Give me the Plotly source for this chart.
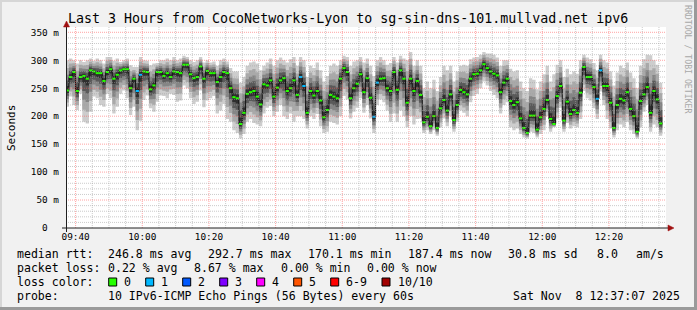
import plotly.graph_objects as go
import pandas as pd

# ---------------- data ----------------
TITLE = "Last 3 Hours from CocoNetworks-Lyon to sg-sin-dns-101.mullvad.net ipv6"
STEP_START = "2025-11-08 09:37:00"          # first 60 s step
VIEW_START = "2025-11-08 09:37:07"
VIEW_END = "2025-11-08 12:37:07"

# median rtt per 60 s step (ms)
median = [
    246, 270, 279, 245, 270, 272, 267, 282, 280, 277,
    277, 263, 279, 284, 267, 274, 282, 284, 284, 250,
    267, 245, 274, 280, 279, 248, 255, 279, 279, 272,
    277, 270, 280, 279, 277, 292, 292, 275, 268, 270,
    289, 267, 281, 277, 277, 261, 270, 279, 277, 250,
    234, 232, 186, 206, 240, 243, 245, 235, 221, 257,
    255, 264, 235, 251, 264, 268, 245, 250, 264, 238,
    270, 254, 206, 245, 237, 245, 228, 198, 211, 238,
    235, 232, 267, 286, 279, 232, 250, 258, 275, 243,
    268, 233, 199, 260, 267, 268, 250, 245, 279, 247,
    282, 267, 224, 267, 245, 263, 238, 189, 199, 182,
    200, 179, 214, 229, 210, 239, 193, 220, 247, 243,
    239, 267, 275, 276, 282, 293, 286, 280, 276, 273,
    243, 260, 267, 227, 220, 225, 196, 179, 170, 201,
    201, 176, 198, 213, 229, 195, 186, 236, 254, 192,
    226, 204, 211, 206, 242, 288, 270, 270, 252, 231,
    282, 254, 254, 224, 179, 220, 231, 228, 243, 213,
    200, 172, 227, 239, 252, 206, 245, 230, 187,
]

# slowest ping per step (top of smoke, ms)
ping_hi = [
    300, 303, 300, 294, 300, 297, 300, 303, 299, 303,
    300, 294, 306, 306, 299, 303, 297, 300, 303, 291,
    288, 288, 306, 300, 299, 291, 294, 295, 300, 300,
    303, 300, 306, 300, 303, 308, 306, 300, 297, 300,
    306, 296, 300, 296, 298, 290, 300, 303, 298, 286,
    280, 280, 260, 270, 290, 296, 298, 294, 282, 290,
    296, 303, 290, 300, 305, 300, 296, 302, 306, 290,
    306, 300, 270, 290, 286, 296, 282, 262, 272, 290,
    294, 290, 300, 308, 306, 290, 298, 300, 306, 296,
    303, 290, 272, 300, 306, 300, 292, 295, 306, 296,
    308, 303, 300, 315, 290, 300, 290, 250, 262, 250,
    265, 245, 270, 290, 282, 290, 262, 280, 290, 292,
    290, 302, 305, 306, 310, 315, 312, 312, 310, 305,
    290, 300, 300, 285, 280, 282, 262, 250, 245, 268,
    265, 248, 262, 275, 290, 262, 275, 292, 300, 270,
    285, 275, 280, 276, 300, 310, 305, 302, 295, 282,
    310, 300, 296, 280, 255, 278, 290, 286, 296, 278,
    268, 250, 290, 302, 310, 309, 300, 292, 260,
]

# fastest ping per step (bottom of smoke, ms)
ping_lo = [
    217, 235, 220, 211, 240, 190, 187, 208, 235, 232,
    220, 217, 240, 232, 205, 217, 240, 246, 232, 202,
    217, 175, 192, 229, 237, 214, 208, 226, 237, 236,
    232, 240, 238, 226, 228, 255, 250, 232, 222, 226,
    246, 216, 228, 232, 236, 205, 210, 222, 195, 190,
    175, 170, 160, 168, 190, 195, 188, 185, 182, 205,
    215, 218, 200, 208, 220, 200, 195, 205, 190, 200,
    200, 195, 178, 200, 195, 204, 182, 170, 172, 190,
    188, 185, 200, 236, 230, 196, 208, 215, 232, 206,
    220, 196, 170, 220, 230, 225, 210, 190, 205, 190,
    210, 200, 180, 200, 185, 195, 196, 170, 175, 168,
    175, 165, 180, 196, 182, 200, 172, 190, 210, 206,
    200, 225, 236, 240, 250, 262, 255, 245, 238, 232,
    205, 220, 225, 180, 175, 178, 168, 162, 160, 172,
    170, 162, 168, 175, 200, 172, 180, 196, 215, 172,
    188, 178, 182, 180, 195, 245, 232, 228, 214, 195,
    244, 220, 195, 178, 162, 175, 185, 180, 190, 175,
    168, 160, 180, 208, 220, 172, 185, 180, 165,
]

# lost pings (of 10) per step
loss_pings = [
    0, 0, 0, 0, 0, 0, 0, 0, 0, 0,
    0, 0, 0, 0, 0, 0, 0, 0, 0, 0,
    0, 1, 1, 0, 0, 0, 0, 0, 0, 0,
    0, 0, 0, 0, 0, 0, 0, 0, 0, 0,
    0, 0, 0, 0, 0, 0, 0, 0, 0, 0,
    0, 0, 0, 0, 0, 0, 0, 0, 0, 0,
    0, 0, 0, 0, 0, 0, 0, 0, 0, 0,
    1, 1, 0, 0, 0, 0, 0, 0, 0, 0,
    0, 0, 0, 0, 0, 0, 0, 0, 0, 0,
    0, 0, 1, 1, 0, 0, 0, 0, 0, 0,
    0, 0, 0, 0, 0, 0, 0, 0, 0, 0,
    0, 0, 0, 0, 0, 0, 0, 0, 0, 0,
    0, 0, 0, 0, 0, 0, 0, 0, 0, 0,
    0, 0, 0, 0, 0, 0, 0, 0, 0, 0,
    0, 0, 0, 0, 0, 0, 0, 0, 0, 0,
    0, 0, 0, 0, 0, 0, 0, 0, 0, 1,
    1, 0, 0, 0, 0, 0, 0, 0, 0, 0,
    0, 0, 0, 0, 0, 0, 0, 0, 0,
]

y_tick_values = [0, 50, 100, 150, 200, 250, 300, 350]
y_tick_labels = ["0  ", "50 m", "100 m", "150 m", "200 m", "250 m", "300 m", "350 m"]
x_tick_labels = ["09:40", "10:00", "10:20", "10:40", "11:00", "11:20", "11:40", "12:00", "12:20"]

loss_names = ["0", "1", "2", "3", "4", "5", "6-9", "10/10"]
loss_colors = ["#26ff00", "#00b8ff", "#0059ff", "#7e00ff", "#ff00ff", "#ff5500", "#ff0000", "#a10000"]

row_median = ["median rtt:", "246.8 ms avg", "292.7 ms max", "170.1 ms min", "187.4 ms now", "30.8 ms sd", "8.0", "am/s"]
row_loss = ["packet loss:", "0.22 % avg", "8.67 % max", "0.00 % min", "0.00 % now"]
row_probe = ["probe:", "10 IPv6-ICMP Echo Pings (56 Bytes) every 60s"]
stamp = "Sat Nov  8 12:37:07 2025"
credit = "RRDTOOL / TOBI OETIKER"

# ---------------- styling ----------------
MONO = "DejaVu Sans Mono"
W, H = 697, 310
PL, PT, PW, PH = 66, 27, 600, 201          # plot area in pixels
Y_TOP = 359.5
SMOKE = [(1.00, "#cdcdcd"), (0.74, "#a9a9a9"), (0.52, "#858585"), (0.33, "#5a5a5a"), (0.15, "#2e2e2e")]
GRID_MAJOR = "rgba(255,90,90,0.55)"
GRID_MINOR = "rgba(160,160,160,0.55)"


def xp(px):
    return (px - PL) / PW


def yp(py):
    return (PT + PH - py) / PH


fig = go.Figure()

edges = list(pd.date_range(STEP_START, periods=len(median) + 1, freq="min"))


def stepped(vals):
    return list(vals) + [vals[-1]]


# smoke
for frac, col in SMOKE:
    lo = [m - frac * (m - l) for m, l in zip(median, ping_lo)]
    hi = [m + frac * (h - m) for m, h in zip(median, ping_hi)]
    fig.add_trace(go.Scatter(x=edges, y=stepped(lo), mode="lines",
                             line=dict(width=0, shape="hv"), hoverinfo="skip"))
    fig.add_trace(go.Scatter(x=edges, y=stepped(hi), mode="lines", fill="tonexty",
                             fillcolor=col, line=dict(width=0, shape="hv"), hoverinfo="skip"))

# median connector
fig.add_trace(go.Scatter(x=edges, y=stepped(median), mode="lines",
                         line=dict(color="#111111", width=1, shape="hv"), hoverinfo="skip"))

# median dashes coloured by loss
for n_lost, col in [(0, loss_colors[0]), (1, loss_colors[1])]:
    xs, ys = [], []
    for i, m in enumerate(median):
        if loss_pings[i] == n_lost:
            xs += [edges[i], edges[i + 1], None]
            ys += [m, m, None]
    fig.add_trace(go.Scatter(x=xs, y=ys, mode="lines", line=dict(color=col, width=2),
                             hoverinfo="skip", connectgaps=False))

shapes = []
# grid (drawn above the smoke like rrdtool)
gt = pd.Timestamp("2025-11-08 09:40:00")
k = 0
while gt <= pd.Timestamp(VIEW_END):
    major = (k % 4 == 0)
    shapes.append(dict(type="line", xref="x", yref="paper", x0=gt, x1=gt, y0=0, y1=1, layer="above",
                       line=dict(color=GRID_MAJOR if major else GRID_MINOR, width=1, dash="1px,1px")))
    gt += pd.Timedelta(minutes=5)
    k += 1
for v in range(10, 360, 10):
    major = (v % 50 == 0)
    shapes.append(dict(type="line", xref="paper", yref="y", x0=0, x1=1, y0=v, y1=v, layer="above",
                       line=dict(color=GRID_MAJOR if major else GRID_MINOR, width=1, dash="1px,1px")))

# axes lines and arrows
AX = "#202020"
ARROW = "#a01010"
shapes.append(dict(type="line", xref="paper", yref="paper", x0=xp(62), x1=xp(669), y0=yp(228), y1=yp(228),
                   line=dict(color=AX, width=1), layer="above"))
shapes.append(dict(type="line", xref="paper", yref="paper", x0=xp(66.5), x1=xp(66.5), y0=yp(232), y1=yp(25),
                   line=dict(color=AX, width=1), layer="above"))
shapes.append(dict(type="path", xref="paper", yref="paper", layer="above",
                   path=f"M {xp(66.5)},{yp(21)} L {xp(63.5)},{yp(27)} L {xp(69.5)},{yp(27)} Z",
                   fillcolor=ARROW, line=dict(color=ARROW, width=0.5)))
shapes.append(dict(type="path", xref="paper", yref="paper", layer="above",
                   path=f"M {xp(674)},{yp(228)} L {xp(668)},{yp(225)} L {xp(668)},{yp(231)} Z",
                   fillcolor=ARROW, line=dict(color=ARROW, width=0.5)))

# frame of the image (rrdtool shade)
shapes.append(dict(type="rect", xref="paper", yref="paper", x0=xp(0), x1=xp(697), y0=yp(0), y1=yp(2),
                   fillcolor="#d6d6d6", line=dict(width=0), layer="above"))
shapes.append(dict(type="rect", xref="paper", yref="paper", x0=xp(0), x1=xp(2), y0=yp(0), y1=yp(310),
                   fillcolor="#d6d6d6", line=dict(width=0), layer="above"))
shapes.append(dict(type="rect", xref="paper", yref="paper", x0=xp(694), x1=xp(697), y0=yp(0), y1=yp(310),
                   fillcolor="#9a9a9a", line=dict(width=0), layer="above"))
shapes.append(dict(type="rect", xref="paper", yref="paper", x0=xp(0), x1=xp(697), y0=yp(307), y1=yp(310),
                   fillcolor="#9a9a9a", line=dict(width=0), layer="above"))

# loss colour boxes
box_x = [108.7, 145.7, 182.7, 219.7, 256.7, 293.7, 330.7, 382.0]
for bx, col in zip(box_x, loss_colors):
    shapes.append(dict(type="rect", xref="paper", yref="paper", x0=xp(bx), x1=xp(bx + 8),
                       y0=yp(286), y1=yp(278), fillcolor=col, line=dict(color="#000000", width=1)))

annotations = []


def txt(s, x, y, size=11.55, anchor="left", color="#000000", angle=0):
    annotations.append(dict(text=s.replace(" ", "\u00a0"), x=xp(x), y=yp(y), xref="paper", yref="paper",
                            xanchor=anchor, yanchor="middle", showarrow=False, borderpad=0,
                            textangle=angle, font=dict(family=MONO, size=size, color=color)))


txt(TITLE, 347.5, 19, size=13.3, anchor="center")
txt("Seconds", 11, 128, size=11, anchor="center", angle=-90)
txt(credit, 688, 59, size=8.2, anchor="center", color="#a8a8a8", angle=90)

r1x = [16.3, 107.3, 207.3, 307.3, 407.3, 506.7, 596.0, 635.0]
for s, x in zip(row_median, r1x):
    txt(s, x, 254.3)
r2x = [16.3, 107.3, 193.4, 279.5, 365.6]
for s, x in zip(row_loss, r2x):
    txt(s, x, 268.3)
txt("loss color:", 16.3, 282.2)
for bx, name in zip(box_x, loss_names):
    txt(name, bx + 14.6, 282.2)
for s, x in zip(row_probe, [16.3, 107.3]):
    txt(s, x, 296.2)
txt(stamp, 680.5, 296.2, anchor="right")

fig.update_layout(
    width=W, height=H,
    margin=dict(l=PL, r=W - PL - PW, t=PT, b=H - PT - PH, pad=0),
    paper_bgcolor="#f1f1f1", plot_bgcolor="#ffffff",
    showlegend=False,
    shapes=shapes, annotations=annotations,
    xaxis=dict(type="date", range=[VIEW_START, VIEW_END], showgrid=False, zeroline=False, showline=False,
               tickvals=[pd.Timestamp("2025-11-08 " + s) for s in x_tick_labels], ticktext=x_tick_labels,
               ticks="", tickfont=dict(family=MONO, size=9.4, color="#000000"), ticklabelstandoff=2,
               fixedrange=True),
    yaxis=dict(range=[0, Y_TOP], showgrid=False, zeroline=False, showline=False,
               tickvals=[v for v in y_tick_values], ticktext=[s.replace(" ", "\u00a0") for s in y_tick_labels],
               ticks="", tickfont=dict(family=MONO, size=9.4, color="#000000"), ticklabelstandoff=6,
               fixedrange=True),
)

fig.write_html("out.html")
